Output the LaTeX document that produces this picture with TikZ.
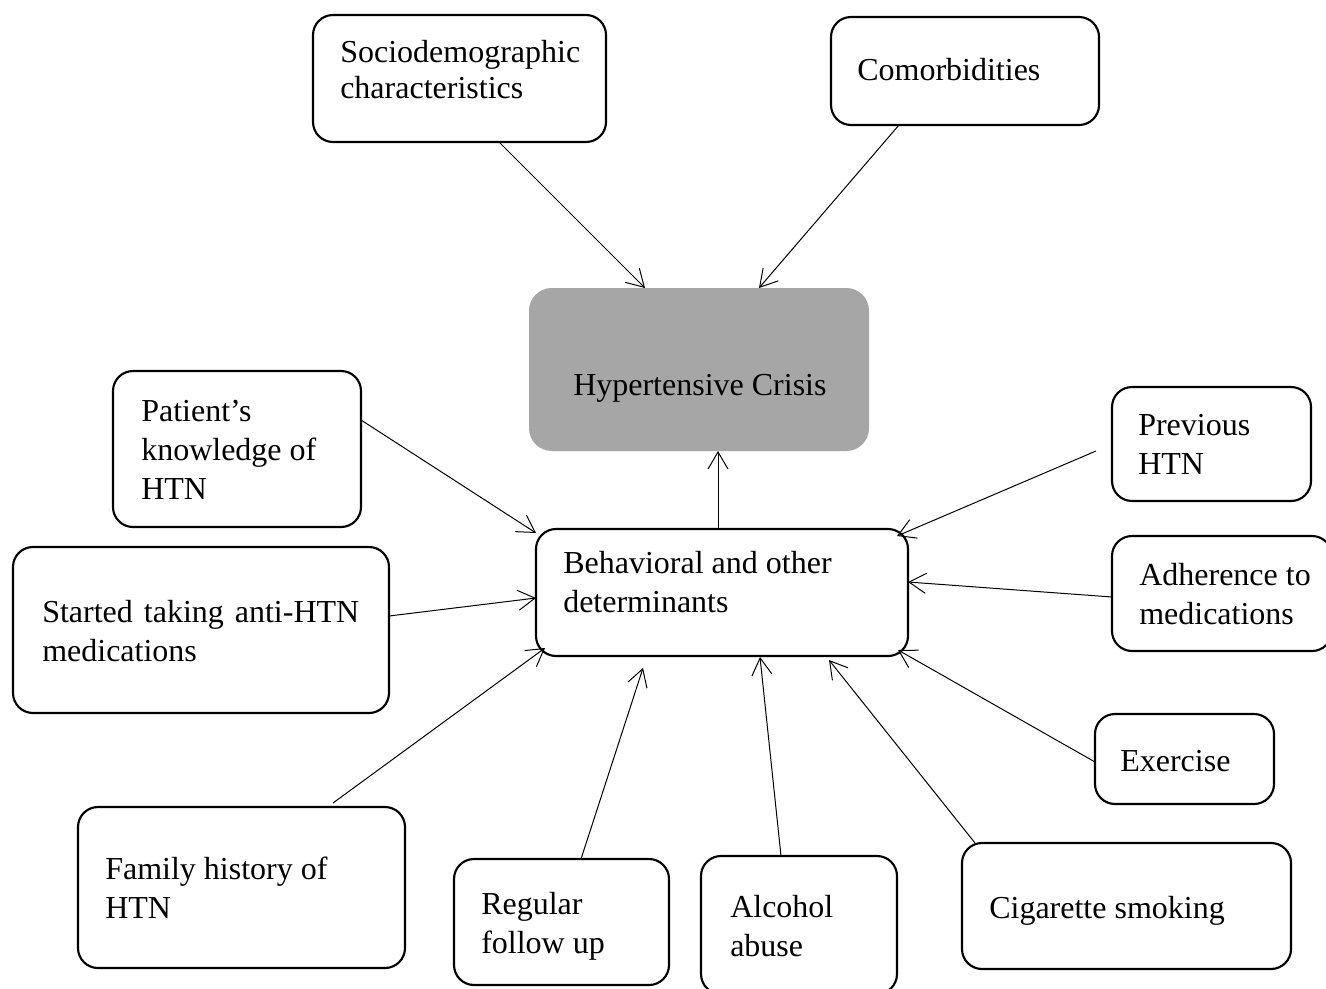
\documentclass[tikz,border=0pt]{standalone}
\usepackage{fontspec}
\setmainfont{Liberation Serif}
\usetikzlibrary{arrows.meta}
\definecolor{crisisgray}{RGB}{166,166,166}
\newcommand\mkbox[6][rbox]{\node[#1, minimum width={(#5-#3)*0.75pt}, minimum height={(#6-#4)*0.75pt}] (#2) at ({(#3+#5)/2},{(#4+#6)/2}) {};}
\begin{document}
\begin{tikzpicture}[x=0.75pt,y=-0.75pt,
  rbox/.style={draw, line width=1.6pt, rounded corners=15pt, outer sep=0pt, inner sep=0pt},
  cbox/.style={fill=crisisgray, rounded corners=17pt, outer sep=0pt, inner sep=0pt},
  txt/.style={anchor=base west, align=left, inner sep=0pt, font=\fontsize{24pt}{29.25pt}\selectfont},
  arr/.style={-{Straight Barb[length=12.75pt,width=15pt]}, line width=0.75pt}]
\path[use as bounding box] (0,0) rectangle (1326,988);
\clip (0,0) rectangle (1326,988);
% boxes
\mkbox{soc}{313}{15}{606}{142}
\mkbox{com}{831}{17}{1099}{125}
\mkbox[cbox]{cri}{529}{288}{869}{451}
\mkbox{pat}{113}{371}{361}{527}
\mkbox{prev}{1112}{387}{1311}{501}
\mkbox{beh}{536}{529}{908}{656}
\mkbox{sta}{13}{547}{389}{713}
\mkbox{adh}{1112}{536}{1332}{651}
\mkbox{ex}{1095}{714}{1274}{804}
\mkbox{fam}{78}{807}{405}{968}
\mkbox{reg}{454}{859}{669}{985}
\mkbox{alc}{701}{856}{897}{994}
\mkbox{cig}{962}{843}{1291}{969}
% texts (anchor = baseline of the last line)
\node[txt, font=\fontsize{24pt}{27pt}\selectfont] (tsoc) at (340,99) {Sociodemographic\\characteristics};
\node[txt] (tcom) at (857,81) {Comorbidities};
\node[txt] (tcri) at (573,395) {Hypertensive Crisis};
\node[txt] (tpat) at (141,499) {Patient's\\knowledge of\\HTN};
\node[txt] (tprev) at (1138,474) {Previous\\HTN};
\node[txt] (tbeh) at (563,612) {Behavioral and other\\determinants};
\node[txt] (tsta) at (42,661) {\makebox[237.75pt][s]{Started taking anti-HTN}\\medications};
\node[txt] (tadh) at (1139,624) {Adherence to\\medications};
\node[txt] (tex) at (1120,771) {Exercise};
\node[txt] (tfam) at (105,918) {Family history of\\HTN};
\node[txt] (treg) at (481,953) {Regular\\follow up};
\node[txt] (talc) at (730,956) {Alcohol\\abuse};
\node[txt] (tcig) at (989,918) {Cigarette smoking};
% connectors
\draw[arr] ([shift={(186,0)}]soc.south west) -- ([shift={(116,0)}]cri.north west);
\draw[arr] ([shift={(68,0)}]com.south west) -- ([shift={(230,0)}]cri.north west);
\draw[arr] ([shift={(182,0)}]beh.north west) -- ([shift={(189,0)}]cri.south west);
\draw[arr] ([shift={(0,49)}]pat.north east) -- ([shift={(0,4)}]beh.north west);
\draw[arr] ([shift={(-16,64)}]prev.north west) -- ([shift={(-11,7)}]beh.north east);
\draw[arr] ([shift={(0,69)}]sta.north east) -- ([shift={(0,69)}]beh.north west);
\draw[arr] ([shift={(0,61)}]adh.north west) -- ([shift={(0,53)}]beh.north east);
\draw[arr] ([shift={(0,48)}]ex.north west) -- ([shift={(-10,-6)}]beh.south east);
\draw[arr] ([shift={(255,-4)}]fam.north west) -- ([shift={(9,-8)}]beh.south west);
\draw[arr] ([shift={(127,0)}]reg.north west) -- ([shift={(107,12)}]beh.south west);
\draw[arr] ([shift={(80,0)}]alc.north west) -- ([shift={(224,1)}]beh.south west);
\draw[arr] ([shift={(13,0)}]cig.north west) -- ([shift={(293,4)}]beh.south west);
\end{tikzpicture}
\end{document}
